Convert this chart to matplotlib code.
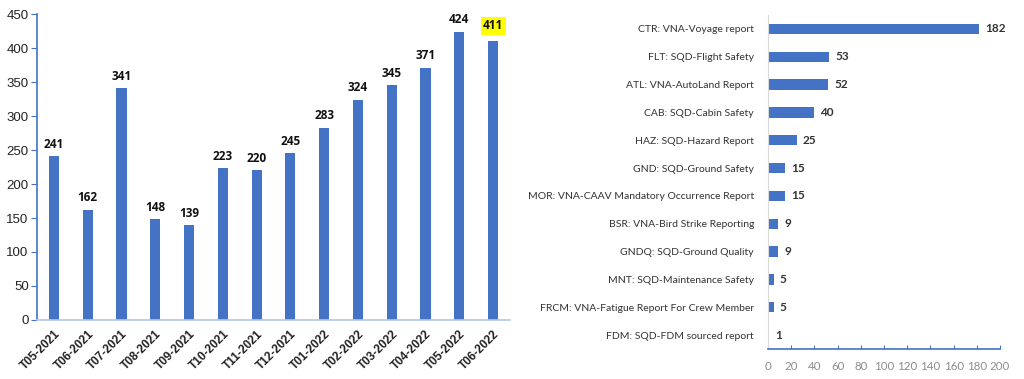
import matplotlib
matplotlib.use("Agg")
import matplotlib.pyplot as plt

months = ["T05-2021", "T06-2021", "T07-2021", "T08-2021", "T09-2021", "T10-2021", "T11-2021",
          "T12-2021", "T01-2022", "T02-2022", "T03-2022", "T04-2022", "T05-2022", "T06-2022"]
monthly = [241, 162, 341, 148, 139, 223, 220, 245, 283, 324, 345, 371, 424, 411]

types = ["CTR: VNA-Voyage report", "FLT: SQD-Flight Safety", "ATL: VNA-AutoLand Report",
         "CAB: SQD-Cabin Safety", "HAZ: SQD-Hazard Report", "GND: SQD-Ground Safety",
         "MOR: VNA-CAAV Mandatory Occurrence Report", "BSR: VNA-Bird Strike Reporting",
         "GNDQ: SQD-Ground Quality", "MNT: SQD-Maintenance Safety",
         "FRCM: VNA-Fatigue Report For Crew Member", "FDM: SQD-FDM sourced report"]
counts = [182, 53, 52, 40, 25, 15, 15, 9, 9, 5, 5, 1]

BLUE = "#4472C4"
W, H = 1024, 379
fig = plt.figure(figsize=(W / 100, H / 100), dpi=100)
fig.patch.set_facecolor("white")

# Left chart
ax1 = fig.add_axes([37 / W, 1 - 320 / H, (510 - 37) / W, (320 - 14) / H])
x = list(range(len(months)))
ax1.bar(x, monthly, width=0.3, color=BLUE)
ax1.set_xlim(-0.5, len(months) - 0.5)
ax1.set_ylim(0, 450)
ax1.set_yticks(range(0, 451, 50))
ax1.set_xticks(x)
ax1.set_xticklabels(months, rotation=45, ha="right", rotation_mode="anchor",
                    fontsize=8.5, fontweight="bold", family="Liberation Sans", color="#222222")
for lab in ax1.get_yticklabels():
    lab.set_fontsize(9.5)
    lab.set_family("Liberation Sans")
    lab.set_color("#222222")
ax1.tick_params(axis="y", length=4, color=BLUE, pad=2)
ax1.tick_params(axis="x", length=0, pad=6)
for s in ["top", "right"]:
    ax1.spines[s].set_visible(False)
ax1.spines["left"].set_color(BLUE)
ax1.spines["left"].set_linewidth(1.2)
ax1.spines["bottom"].set_color("#B4C7E7")
ax1.spines["bottom"].set_linewidth(1.2)
for i, v in enumerate(monthly):
    if i == len(monthly) - 1:
        ax1.text(i, v + 12, str(v), ha="center", va="bottom", fontsize=8.5, fontweight="bold",
                 family="Open Sans", color="#111111",
                 bbox=dict(boxstyle="square,pad=0.2", facecolor="#FFFF00", edgecolor="none"))
    else:
        ax1.text(i, v + 8, str(v), ha="center", va="bottom", fontsize=8.5, fontweight="bold",
                 family="Open Sans", color="#111111")

# Right chart
ax2 = fig.add_axes([768 / W, 1 - 349 / H, (1000 - 768) / W, (349 - 15) / H])
y = list(range(len(types)))
ax2.barh(y, counts, height=0.37, color=BLUE)
ax2.set_ylim(len(types) - 0.5, -0.5)
ax2.set_xlim(0, 200)
ax2.set_xticks(range(0, 201, 20))
ax2.set_yticks(y)
ax2.set_yticklabels(types, fontsize=7.5, family="Lato", color="#333333")
for lab in ax2.get_xticklabels():
    lab.set_fontsize(8.3)
    lab.set_family("Lato")
    lab.set_color("#8C8C8C")
ax2.tick_params(axis="y", length=0, pad=10)
ax2.tick_params(axis="x", direction="in", length=3, color=BLUE, pad=9)
for s in ["top", "right"]:
    ax2.spines[s].set_visible(False)
ax2.spines["left"].set_color("#D9D9D9")
ax2.spines["bottom"].set_color(BLUE)
ax2.spines["bottom"].set_linewidth(1.2)
for i, v in enumerate(counts):
    ax2.text(v + 5, i, str(v), ha="left", va="center", fontsize=8.5, fontweight="bold",
             family="Lato", color="#333333")

fig.savefig("out.png", dpi=100, facecolor="white")
